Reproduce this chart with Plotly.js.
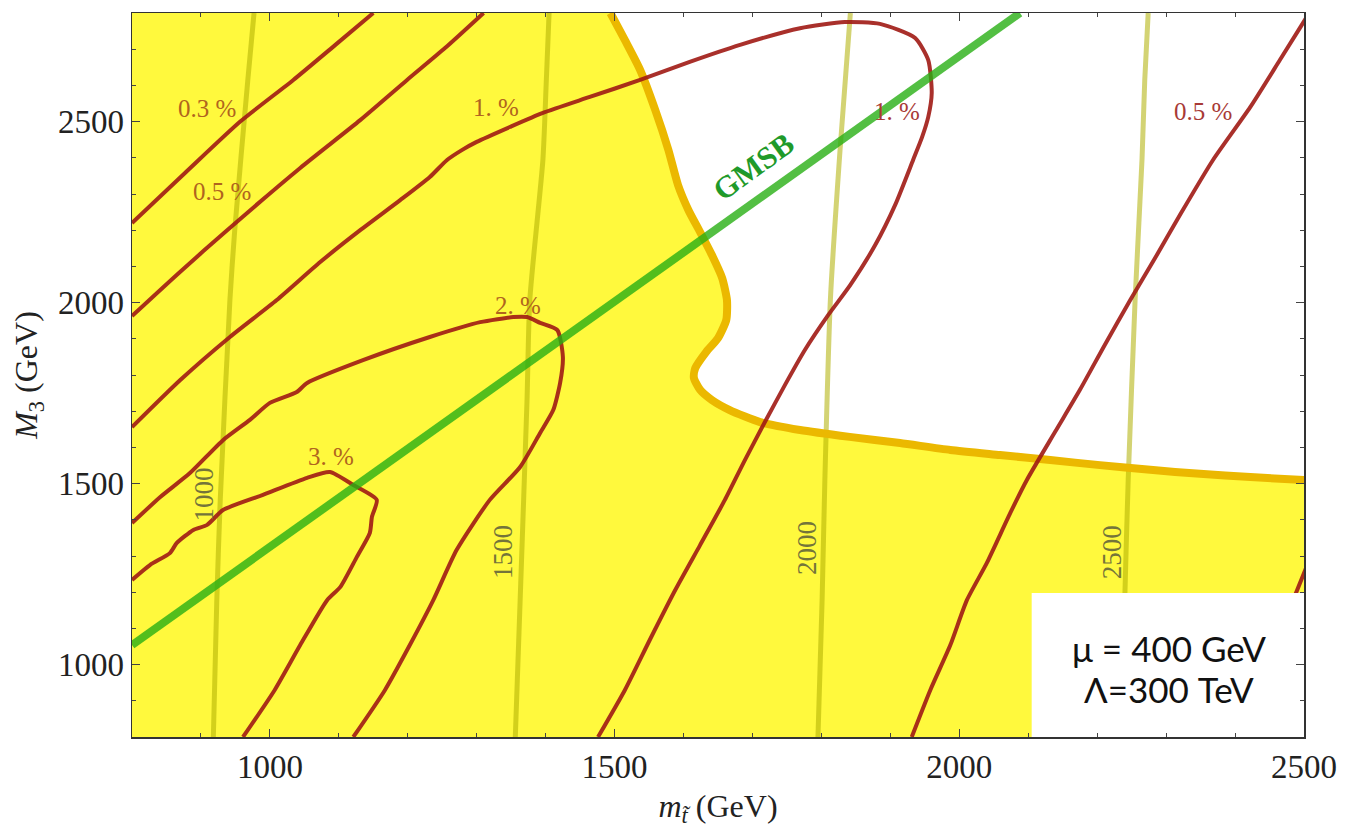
<!DOCTYPE html>
<html><head><meta charset="utf-8">
<script src="https://cdn.plot.ly/plotly-3.0.1.min.js"></script>
<style>html,body{margin:0;padding:0;background:#fff}#chart{width:1347px;height:829px}</style>
</head><body><div id="chart"></div>
<script>
// ---- data (GeV) ----
const xTicks = [1000, 1500, 2000, 2500];
const yTicks = [1000, 1500, 2000, 2500];

// boundary of excluded (yellow) region, from top edge to right edge
const boundaryX = [1494,1515,1537,1559,1578,1592,1607,1624,1641,1656,1663,1662,1650,1633,1617,1615,1624,1641,1667,1711,1769,1841,1914,1987,2059,2132,2204,2277,2349,2422,2501];
const boundaryY = [2800,2725,2643,2532,2422,2325,2256,2195,2132,2068,2007,1952,1902,1864,1819,1792,1759,1731,1703,1670,1648,1629,1612,1593,1579,1565,1551,1538,1527,1518,1510];

// fine-tuning contours
const c03X = [800,878,957,1034,1095,1150];
const c03Y = [2220,2360,2500,2615,2712,2800];
const c05X = [800,868,938,1044,1131,1199,1254,1310];
const c05Y = [1963,2082,2200,2372,2504,2615,2703,2800];
const c1X = [800,870,942,1010,1073,1131,1189,1232,1257,1279,1300,1348,1396,1464,1537,1609,1682,1769,1834,1885,1936,1955,1960,1955,1946,1933,1907,1878,1842,1810,1776,1747,1718,1689,1660,1624,1588,1551,1515,1476];
const c1Y = [1656,1786,1905,2007,2112,2200,2283,2347,2394,2422,2444,2485,2524,2568,2615,2665,2712,2758,2775,2770,2731,2670,2579,2513,2457,2394,2270,2159,2049,1966,1869,1772,1670,1565,1455,1330,1206,1068,930,800];
const c2X = [800,841,884,932,971,1000,1039,1054,1135,1232,1305,1353,1373,1392,1417,1425,1421,1411,1392,1363,1319,1271,1237,1203,1167,1121];
const c2Y = [1391,1463,1529,1620,1676,1723,1753,1778,1841,1905,1946,1960,1960,1944,1924,1850,1778,1703,1640,1546,1455,1317,1178,1054,930,800];
const c3X = [800,826,855,865,889,909,932,990,1054,1087,1121,1155,1148,1145,1126,1102,1083,1044,1007,961];
const c3Y = [1234,1275,1308,1336,1372,1386,1427,1469,1516,1532,1496,1455,1408,1364,1297,1214,1178,1054,930,800];
const c05bX = [1931,1958,1987,2011,2040,2074,2098,2139,2175,2211,2248,2284,2320,2368,2422,2465,2503];
const c05bY = [800,930,1054,1178,1281,1419,1510,1643,1759,1883,2007,2123,2242,2394,2540,2670,2786];
const c03bX = [2415,2460,2503];
const c03bY = [800,1060,1267];

// stop-mass iso-lines
const m1000X = [918,923,928,942,949,968,977];
const m1000Y = [800,1178,1455,2007,2200,2615,2800];
const m1500X = [1356,1363,1373,1377,1396,1401,1405];
const m1500Y = [800,1178,1731,2007,2394,2615,2800];
const m2000X = [1795,1801,1805,1813,1827,1842];
const m2000Y = [800,1178,1510,2007,2421,2800];
const m2500X = [2236,2240,2245,2255,2265,2269,2274];
const m2500Y = [800,1178,1510,2007,2394,2615,2800];

// GMSB line
const gmsbX = [800, 2088];
const gmsbY = [1054, 2800];

// labels
const contourLabels = ['0.3 %','0.5 %','1. %','2. %','3. %','1. %','0.5 %'];
const contourLabelX = [909, 931, 1328, 1360, 1089, 1910, 2354];
const contourLabelY = [2535, 2306, 2538, 1991, 1574, 2527, 2527];
const massLabels = ['1000','1500','2000','2500'];
const massLabelX = [904, 1338, 1779, 2222];
const massLabelY = [1469, 1311, 1322, 1311];
const infoLines = ['μ = 400 GeV', 'Λ=300 TeV'];

// ---- drawing ----
const XMIN = 800, XMAX = 2500, YMIN = 800, YMAX = 2800;
const yellowX = [XMIN, XMAX].concat(boundaryX.slice().reverse(), [XMIN, XMIN]);
const yellowY = [YMIN, YMIN].concat(boundaryY.slice().reverse(), [YMAX, YMIN]);

const RED = 'rgba(160,25,20,0.9)';
const OLIVE = 'rgba(175,175,0,0.55)';
function line(x, y, color, width, shape) {
  return {x, y, type:'scatter', mode:'lines', hoverinfo:'skip', showlegend:false,
    line:{color, width, shape: shape||'spline', smoothing:0.6}};
}
const traces = [
  {x:yellowX, y:yellowY, type:'scatter', mode:'lines', fill:'toself', fillcolor:'#FFF93D',
   line:{width:0}, hoverinfo:'skip', showlegend:false},
  line(m1000X, m1000Y, OLIVE, 5), line(m1500X, m1500Y, OLIVE, 5),
  line(m2000X, m2000Y, OLIVE, 5), line(m2500X, m2500Y, OLIVE, 5),
  line(boundaryX, boundaryY, '#EBB800', 8),
  line(c03X, c03Y, RED, 4), line(c05X, c05Y, RED, 4), line(c1X, c1Y, RED, 4),
  line(c2X, c2Y, RED, 4), line(c3X, c3Y, RED, 4), line(c05bX, c05bY, RED, 4),
  line(c03bX, c03bY, RED, 4),
  line(gmsbX, gmsbY, 'rgba(40,175,20,0.8)', 8, 'linear'),
  // white info box
  {x:[2105,XMAX,XMAX,2105,2105], y:[YMIN,YMIN,1198,1198,YMIN], type:'scatter', mode:'lines',
   fill:'toself', fillcolor:'#ffffff', line:{width:0}, hoverinfo:'skip', showlegend:false}
];

const annotations = [];
contourLabels.forEach((t,i)=>{
  const onWhite = (i >= 5);
  annotations.push({x:contourLabelX[i], y:contourLabelY[i], text:t, showarrow:false,
    xanchor:'center', yanchor:'middle',
    font:{family:'Liberation Serif', size:25, color: onWhite ? '#A83A36' : '#B0641E'}});
});
massLabels.forEach((t,i)=>{
  annotations.push({x:massLabelX[i], y:massLabelY[i], text:t, showarrow:false, textangle:-90,
    xanchor:'center', yanchor:'middle',
    font:{family:'Liberation Serif', size:27, color:'#74743A'}});
});
annotations.push({x:1702, y:2375, text:'<b>GMSB</b>', showarrow:false, textangle:-36,
  xanchor:'center', yanchor:'middle',
  font:{family:'Liberation Serif', size:31, color:'#1F9A2A'}});
const infoY = [1046, 933];
infoLines.forEach((t,i)=>{
  annotations.push({x:2304, y:infoY[i], text:t, showarrow:false, xanchor:'center', yanchor:'middle',
    font:{family:'Lato', size:35, color:'#111'}});
});

const tickfont = {family:'Liberation Serif', size:33, color:'#222'};
const axisCommon = {
  ticks:'inside', ticklen:8, tickwidth:1, tickcolor:'#444',
  showline:true, linecolor:'#333', linewidth:1.5, mirror:'ticks',
  showgrid:false, zeroline:false, tickfont,
};
const layout = {
  width:1347, height:829,
  margin:{l:132, r:43, t:13, b:92},
  paper_bgcolor:'#fff', plot_bgcolor:'#fff',
  showlegend:false,
  xaxis: Object.assign({}, axisCommon, {
    range:[XMIN, XMAX], tickvals:xTicks, ticktext:xTicks.map(String),
    minor:{tick0:800, dtick:100, ticks:'inside', ticklen:4, tickcolor:'#444'},
    title:{text:'<i>m</i><sub><i>t\u0303</i></sub> (GeV)', standoff:10,
      font:{family:'Liberation Serif', size:32, color:'#222'}}
  }),
  yaxis: Object.assign({}, axisCommon, {
    range:[YMIN, YMAX], tickvals:yTicks, ticktext:yTicks.map(String),
    minor:{tick0:800, dtick:100, ticks:'inside', ticklen:4, tickcolor:'#444'},
    title:{text:'<i>M</i><sub>3</sub> (GeV)', standoff:10,
      font:{family:'Liberation Serif', size:32, color:'#222'}}
  }),
  annotations
};
Plotly.newPlot('chart', traces, layout, {displayModeBar:false, staticPlot:true});
</script></body></html>
